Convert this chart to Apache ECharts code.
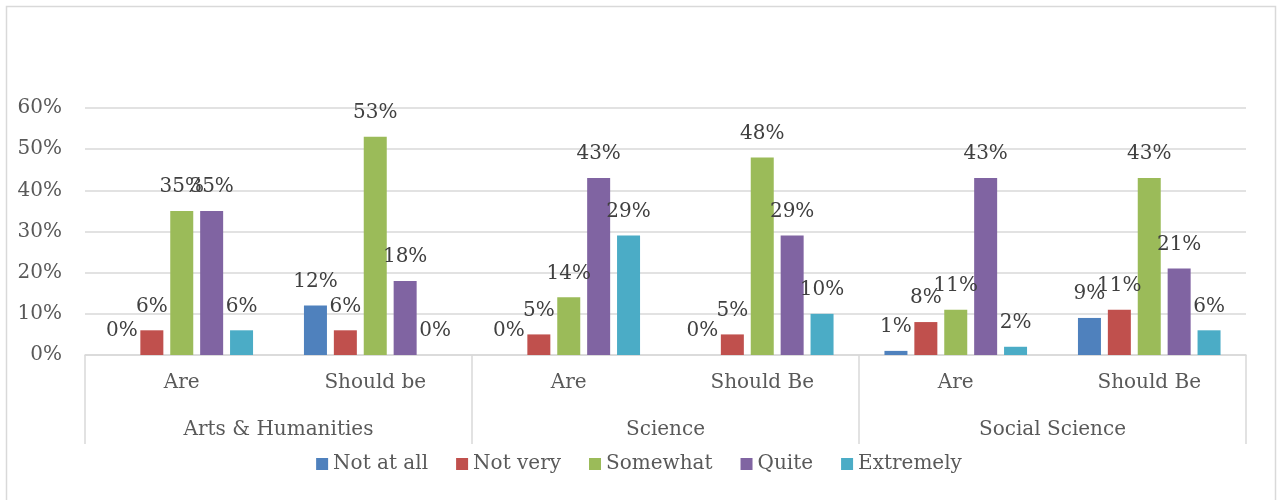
<!DOCTYPE html>
<html>
<head>
<meta charset="utf-8">
<script src="https://cdn.jsdelivr.net/npm/echarts@6/dist/echarts.min.js"></script>
<style>
html,body{margin:0;padding:0;background:#fff;}
#chart{width:1278px;height:500px;}
</style>
</head>
<body>
<div id="chart"></div>
<script>
const groups = ['Arts & Humanities', 'Science', 'Social Science'];
const subCategories = ['Are', 'Should be', 'Are', 'Should Be', 'Are', 'Should Be'];
const seriesNames = ['Not at all', 'Not very', 'Somewhat', 'Quite', 'Extremely'];
const notAtAll  = [0, 12, 0, 0, 1, 9];
const notVery   = [6, 6, 5, 5, 8, 11];
const somewhat  = [35, 53, 14, 48, 11, 43];
const quite     = [35, 18, 43, 29, 43, 21];
const extremely = [6, 0, 29, 10, 2, 6];
const yTicks = [0, 10, 20, 30, 40, 50, 60];

const colors = ['#4f81bd', '#c0504d', '#9bbb59', '#8064a2', '#4bacc6'];
const values = [notAtAll, notVery, somewhat, quite, extremely];
const FONT = 'DejaVu Serif';

const chart = echarts.init(document.getElementById('chart'));
chart.setOption({
  animation: false,
  color: colors,
  textStyle: { fontFamily: FONT },
  grid: { left: 85, right: 32, top: 108, bottom: 145, containLabel: false },
  graphic: [{
    type: 'rect',
    shape: { x: 6.5, y: 6.5, width: 1269, height: 600 },
    style: { fill: 'none', stroke: '#d9d9d9', lineWidth: 1.5 },
    silent: true
  }],
  legend: {
    bottom: 21,
    left: 'center',
    itemWidth: 12,
    itemHeight: 12,
    itemGap: 28,
    icon: 'rect',
    textStyle: { fontFamily: FONT, fontSize: 20, color: '#595959' },
    data: seriesNames
  },
  xAxis: [{
    type: 'category',
    data: subCategories,
    axisLine: { lineStyle: { color: '#d9d9d9', width: 1.5 } },
    axisTick: { show: false },
    axisLabel: { interval: 0, margin: 18, fontFamily: FONT, fontSize: 20, color: '#595959' }
  }, {
    type: 'category',
    data: groups,
    position: 'bottom',
    gridIndex: 0,
    axisLine: { show: false },
    axisTick: { show: true, interval: 0, length: 89, lineStyle: { color: '#d9d9d9', width: 1.5 } },
    axisLabel: { interval: 0, margin: 65, fontFamily: FONT, fontSize: 20, color: '#595959' }
  }],
  yAxis: {
    type: 'value',
    min: yTicks[0],
    max: yTicks[yTicks.length - 1],
    interval: 10,
    axisLine: { show: false },
    axisTick: { show: false },
    splitLine: { lineStyle: { color: '#d9d9d9', width: 1.5 } },
    axisLabel: { formatter: '{value}%', margin: 23, fontFamily: FONT, fontSize: 20, color: '#595959' }
  },
  series: seriesNames.map((name, i) => ({
    name: name,
    type: 'bar',
    xAxisIndex: 0,
    data: values[i],
    barWidth: 23,
    barGap: '30%',
    itemStyle: { color: colors[i] },
    label: {
      show: true,
      position: 'top',
      distance: 14,
      formatter: '{c}%',
      fontFamily: FONT,
      fontSize: 20,
      color: '#404040'
    }
  }))
});
</script>
</body>
</html>
